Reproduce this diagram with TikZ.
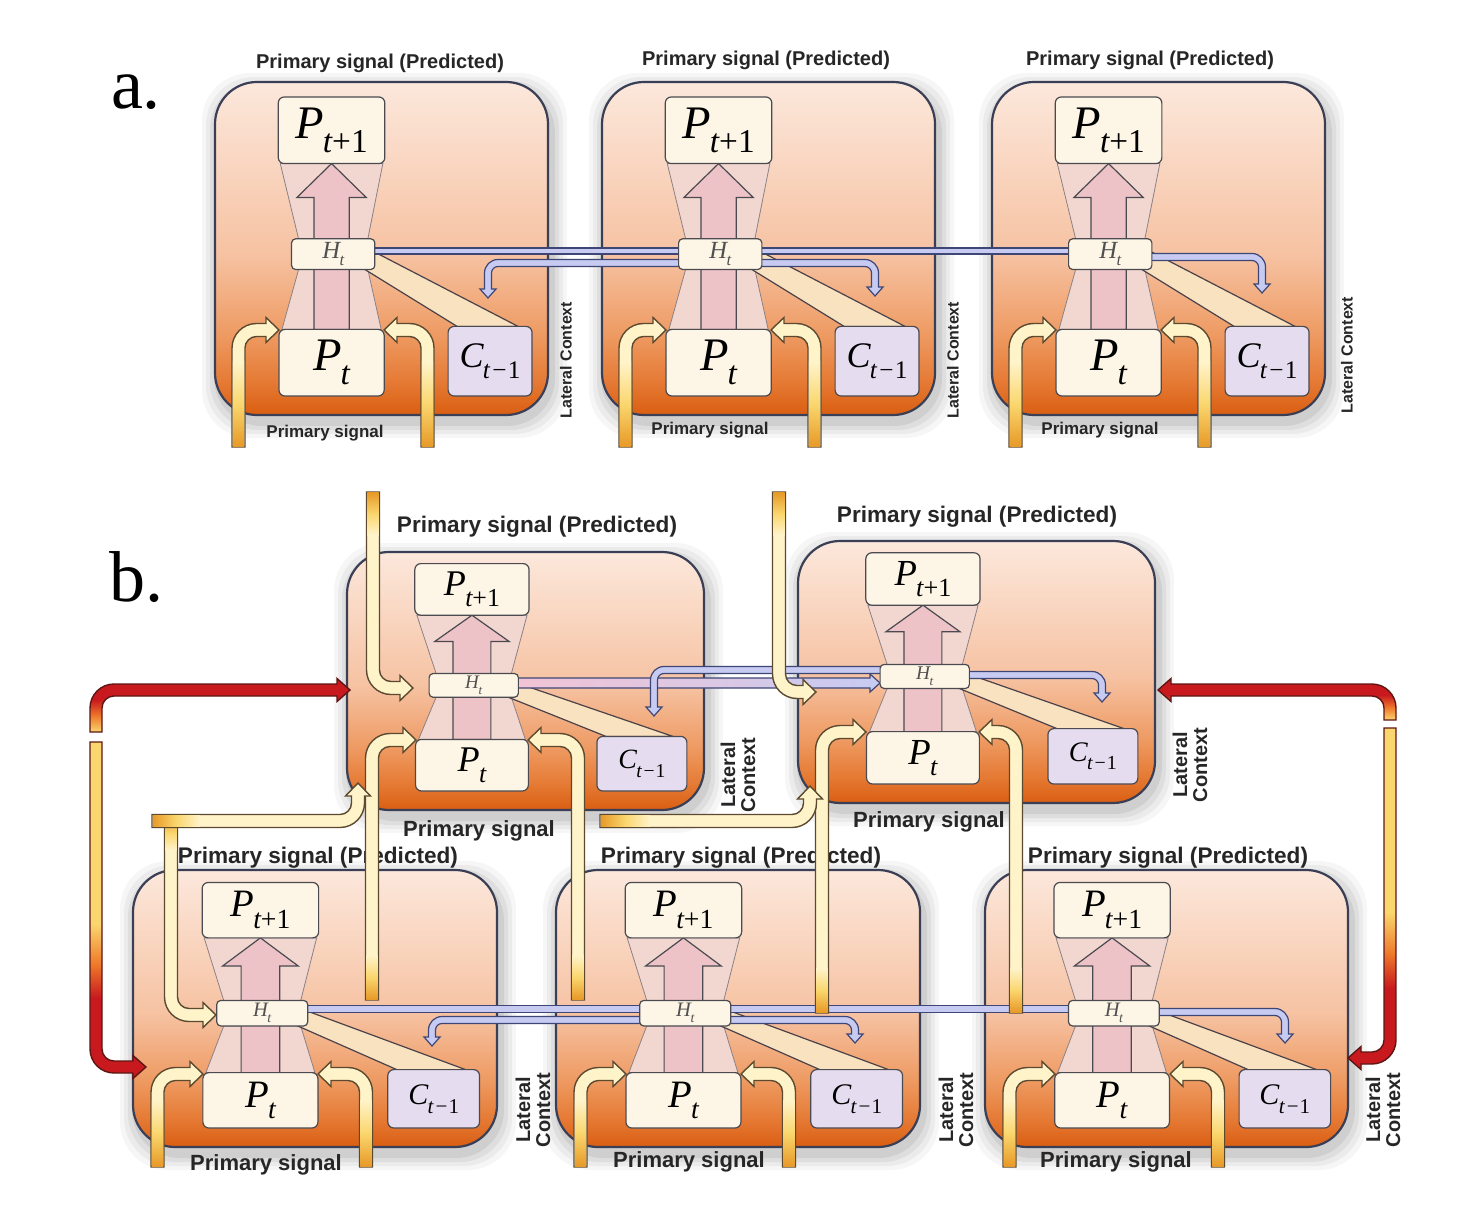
\documentclass[tikz,border=0pt]{standalone}
\usepackage{fontspec}
\setmainfont{Liberation Sans}
\newfontfamily\tms{Liberation Serif}
\definecolor{boxedge}{HTML}{3B3F55}
\definecolor{o0}{HTML}{FCE8DC}
\definecolor{o2}{HTML}{F6C2A2}
\definecolor{o3}{HTML}{EE9A62}
\definecolor{o35}{HTML}{E57A34}
\definecolor{o4}{HTML}{DA5E12}
\definecolor{pboxf}{HTML}{FDF6E6}
\definecolor{pboxe}{HTML}{4A4A50}
\definecolor{cboxf}{HTML}{E6DCF0}
\definecolor{hgf}{HTML}{F1D7D0}
\definecolor{hge}{HTML}{8C8084}
\definecolor{bigf}{HTML}{EEC3C7}
\definecolor{bande}{HTML}{4A4248}
\definecolor{bandf}{HTML}{F9E2C0}
\definecolor{pedge}{HTML}{5C4A30}
\definecolor{pcream}{HTML}{FFF3CA}
\definecolor{pyel}{HTML}{FAD66E}
\definecolor{pgold}{HTML}{E79A28}
\definecolor{pred}{HTML}{C81A1E}
\definecolor{porange}{HTML}{EE7A2A}
\definecolor{redge}{HTML}{5E1614}
\definecolor{lavf}{HTML}{C7CBF2}
\definecolor{lave}{HTML}{3E4676}
\definecolor{lpink}{HTML}{F2C4D4}
\definecolor{labc}{HTML}{262626}
\definecolor{hcol}{HTML}{505050}
\pgfdeclareverticalshading{modshade}{100bp}{color(0bp)=(o4); color(25bp)=(o4); color(30bp)=(o35); color(37bp)=(o3); color(49bp)=(o2); color(75bp)=(o0); color(100bp)=(o0)}
\pgfdeclareverticalshading{redup}{100bp}{color(0bp)=(pyel); color(25bp)=(pyel); color(40bp)=(porange); color(55bp)=(pred); color(100bp)=(pred)}
\pgfdeclareverticalshading{reddown}{100bp}{color(0bp)=(pred); color(37bp)=(pred); color(42bp)=(porange); color(48bp)=(pyel); color(100bp)=(pyel)}
\tikzset{
  modbox/.style={shading=modshade, draw=boxedge, line width=1.1pt, rounded corners=21pt},
  pbox/.style={draw=pboxe, fill=pboxf, line width=0.6pt, rounded corners=3pt, inner sep=0pt},
  cbox/.style={draw=pboxe, fill=cboxf, line width=0.6pt, rounded corners=3pt, inner sep=0pt},
  hgl/.style={fill=hgf, draw=hge, line width=0.4pt},
  bigarrow/.style={fill=bigf, draw=pboxe, line width=0.6pt},
  band/.style={fill=bandf, draw=bande, line width=0.6pt},
  ypipe/.style={fill=pcream, draw=pedge, line width=0.7pt},
  rpipeup/.style={shade, shading=redup, draw=redge, line width=0.7pt},
  rpipedown/.style={shade, shading=reddown, draw=redge, line width=0.7pt},
  lpipe/.style={fill=lavf, draw=lave, line width=0.6pt},
  lpipepk/.style={left color=lpink, right color=lavf, draw=lave, line width=0.6pt},
  lbl/.style={font=\bfseries\fontsize{#1}{#1}\selectfont, text=labc, inner sep=0pt},
  lat/.style={font=\bfseries\fontsize{#1}{#1}\selectfont, text=labc, inner sep=0pt, rotate=90, align=center},
}
\newcommand\Psym[4]{{\fontsize{#1}{#1}\selectfont\tms\itshape #3\kern-0.02em\raisebox{-0.3em}{\fontsize{#2}{#2}\selectfont #4}}}
\newcommand\module[5]{%
 \pgfmathsetmacro\mxl{#1}\pgfmathsetmacro\myt{#2}%
 \pgfmathsetmacro\mxr{#1+#3}\pgfmathsetmacro\myb{#2+#4}%
 \pgfmathsetmacro\pcx{#1+0.35*#3}\pgfmathsetmacro\pqw{0.16*#3}%
 \pgfmathsetmacro\pqt{#2+0.045*#4}\pgfmathsetmacro\pqb{#2+0.245*#4}%
 \pgfmathsetmacro\pqh{0.1*#4}%
 \pgfmathsetmacro\pbw{0.158*#3}%
 \pgfmathsetmacro\pbb{#2+#4-19}\pgfmathsetmacro\pbt{#2+#4-19-0.2*#4}%
 \pgfmathsetmacro\pch{(\pbb-\pbt+3)/2}%
 \pgfmathsetmacro\hcx{#1+0.355*#3}\pgfmathsetmacro\hw{0.125*#3}%
 \pgfmathsetmacro\hcy{#2+0.517*#4}\pgfmathsetmacro\hh{0.046*#4}%
 \pgfmathsetmacro\ccx{#1+0.826*#3}\pgfmathsetmacro\cw{0.126*#3}%
 \pgfmathsetmacro\sa{0.053*#3}\pgfmathsetmacro\ha{0.104*#3}%
 \pgfmathsetmacro\hb{\pqb+0.45*(\hcy-\hh-\pqb)}%
 \pgfmathsetmacro\fsP{0.07*#4}\pgfmathsetmacro\fsPs{0.05*#4}%
 \pgfmathsetmacro\fsC{0.054*#4}\pgfmathsetmacro\fsCs{0.038*#4}%
 \foreach \s/\op in {16/0.035,12/0.045,8/0.055,4/0.065}{%
   \fill[black,opacity=\op,rounded corners=24pt] ({\mxl-\s+3},{\myt-\s+7}) rectangle ({\mxr+\s+3},{\myb+\s+7});}%
 \shadedraw[modbox] ({\mxl},{\myt}) rectangle ({\mxr},{\myb});
 \filldraw[hgl] ({\pcx-\pqw+2},{\pqb}) -- ({\pcx+\pqw-2},{\pqb}) -- ({\hcx+\hw-7},{\hcy-\hh}) -- ({\hcx-\hw+7},{\hcy-\hh}) -- cycle;
 \filldraw[hgl] ({\hcx-\hw+7},{\hcy+\hh}) -- ({\hcx+\hw-7},{\hcy+\hh}) -- ({\pcx+\pbw-3},{\pbt}) -- ({\pcx-\pbw+3},{\pbt}) -- cycle;
 \filldraw[bigarrow] ({\pcx-\sa},{\pbt}) -- ({\pcx-\sa},{\hb}) -- ({\pcx-\ha},{\hb}) -- ({\pcx},{\pqb}) -- ({\pcx+\ha},{\hb}) -- ({\pcx+\sa},{\hb}) -- ({\pcx+\sa},{\pbt}) -- cycle;
 \filldraw[band] ({\hcx+\hw},{\hcy-2}) -- ({\ccx+\cw-14},{\pbt-3}) -- ({\ccx-\cw+9},{\pbt-3}) -- ({\hcx+\hw-10},{\hcy+\hh}) -- cycle;
 \node[pbox, minimum width=\pqw pt, minimum height=\pqh pt] (#5p1) at ({\pcx},{(\pqt+\pqb)/2}) {\Psym{\fsP}{\fsPs}{P}{t\upshape+1}};
 \node[pbox, minimum width=\pbw pt, minimum height=\pqh pt] (#5pt) at ({\pcx},{(\pbt+\pbb)/2}) {\Psym{\fsP}{\fsPs}{P}{t}};
 \node[cbox, minimum width=\cw pt, minimum height=\pch pt] (#5c) at ({\ccx},{(\pbt-3+\pbb)/2}) {\Psym{\fsC}{\fsCs}{C}{t\kern0.1em\upshape−\kern0.05em1}};
}
\newcommand\Hbox[5]{%
 \pgfmathsetmacro\hcx{#1+0.355*#3}\pgfmathsetmacro\hw{0.125*#3}%
 \pgfmathsetmacro\hcy{#2+0.517*#4}\pgfmathsetmacro\hh{0.046*#4}%
 \pgfmathsetmacro\fsH{0.037*#4}\pgfmathsetmacro\fsHs{0.025*#4}%
 \node[pbox, rounded corners=2pt, minimum width=\hw pt, minimum height=\hh pt] (#5h) at ({\hcx},{\hcy}) {\textcolor{hcol}{\Psym{\fsH}{\fsHs}{H}{t}}};}
\newcommand\pipesize[4]{\def\ph{#1}\def\pH{#2}\def\pL{#3}\def\pr{#4}}
% up then right
\newcommand\pipeUR[5]{\path[#1] ({#2-\ph},{#3}) -- ({#2-\ph},{#4+\pr}) arc[start angle=180, end angle=270, radius={\pr+\ph}] -- ({#5-\pL},{#4-\ph}) -- ({#5-\pL},{#4-\pH}) -- ({#5},{#4}) -- ({#5-\pL},{#4+\pH}) -- ({#5-\pL},{#4+\ph}) -- ({#2+\pr},{#4+\ph}) arc[start angle=270, end angle=180, radius={\pr-\ph}] -- ({#2+\ph},{#3}) -- cycle;}
% up then left
\newcommand\pipeUL[5]{\path[#1] ({#2+\ph},{#3}) -- ({#2+\ph},{#4+\pr}) arc[start angle=0, end angle=-90, radius={\pr+\ph}] -- ({#5+\pL},{#4-\ph}) -- ({#5+\pL},{#4-\pH}) -- ({#5},{#4}) -- ({#5+\pL},{#4+\pH}) -- ({#5+\pL},{#4+\ph}) -- ({#2-\pr},{#4+\ph}) arc[start angle=-90, end angle=0, radius={\pr-\ph}] -- ({#2-\ph},{#3}) -- cycle;}
% down then right
\newcommand\pipeDR[5]{\path[#1] ({#2-\ph},{#3}) -- ({#2-\ph},{#4-\pr}) arc[start angle=180, end angle=90, radius={\pr+\ph}] -- ({#5-\pL},{#4+\ph}) -- ({#5-\pL},{#4+\pH}) -- ({#5},{#4}) -- ({#5-\pL},{#4-\pH}) -- ({#5-\pL},{#4-\ph}) -- ({#2+\pr},{#4-\ph}) arc[start angle=90, end angle=180, radius={\pr-\ph}] -- ({#2+\ph},{#3}) -- cycle;}
% down then left
\newcommand\pipeDL[5]{\path[#1] ({#2+\ph},{#3}) -- ({#2+\ph},{#4-\pr}) arc[start angle=0, end angle=90, radius={\pr+\ph}] -- ({#5+\pL},{#4+\ph}) -- ({#5+\pL},{#4+\pH}) -- ({#5},{#4}) -- ({#5+\pL},{#4-\pH}) -- ({#5+\pL},{#4-\ph}) -- ({#2-\pr},{#4-\ph}) arc[start angle=90, end angle=0, radius={\pr-\ph}] -- ({#2-\ph},{#3}) -- cycle;}
% right then up
\newcommand\pipeRU[5]{\path[#1] ({#2},{#3+\ph}) -- ({#4-\pr},{#3+\ph}) arc[start angle=90, end angle=0, radius={\pr+\ph}] -- ({#4+\ph},{#5+\pL}) -- ({#4+\pH},{#5+\pL}) -- ({#4},{#5}) -- ({#4-\pH},{#5+\pL}) -- ({#4-\ph},{#5+\pL}) -- ({#4-\ph},{#3-\pr}) arc[start angle=0, end angle=90, radius={\pr-\ph}] -- ({#2},{#3-\ph}) -- cycle;}
% right then down
\newcommand\pipeRD[5]{\path[#1] ({#2},{#3-\ph}) -- ({#4-\pr},{#3-\ph}) arc[start angle=270, end angle=360, radius={\pr+\ph}] -- ({#4+\ph},{#5-\pL}) -- ({#4+\pH},{#5-\pL}) -- ({#4},{#5}) -- ({#4-\pH},{#5-\pL}) -- ({#4-\ph},{#5-\pL}) -- ({#4-\ph},{#3+\pr}) arc[start angle=360, end angle=270, radius={\pr-\ph}] -- ({#2},{#3+\ph}) -- cycle;}
% left then down
\newcommand\pipeLD[5]{\path[#1] ({#2},{#3-\ph}) -- ({#4+\pr},{#3-\ph}) arc[start angle=270, end angle=180, radius={\pr+\ph}] -- ({#4-\ph},{#5-\pL}) -- ({#4-\pH},{#5-\pL}) -- ({#4},{#5}) -- ({#4+\pH},{#5-\pL}) -- ({#4+\ph},{#5-\pL}) -- ({#4+\ph},{#3+\pr}) arc[start angle=180, end angle=270, radius={\pr-\ph}] -- ({#2},{#3+\ph}) -- cycle;}
% straight right arrow
\newcommand\pipeRt[4]{\path[#1] ({#2},{#3-\ph}) -- ({#4-\pL},{#3-\ph}) -- ({#4-\pL},{#3-\pH}) -- ({#4},{#3}) -- ({#4-\pL},{#3+\pH}) -- ({#4-\pL},{#3+\ph}) -- ({#2},{#3+\ph}) -- cycle;}
\newcommand\gradUp[3]{\shade[top color=pcream, bottom color=pgold, middle color=pyel] ({#1-\ph+0.8},{#2-0.8}) rectangle ({#1+\ph-0.8},{#3});}
\newcommand\gradDown[3]{\shade[top color=pgold, bottom color=pcream, middle color=pyel] ({#1-\ph+0.8},{#2+0.8}) rectangle ({#1+\ph-0.8},{#3});}
\newcommand\gradRt[3]{\shade[left color=pgold, right color=pcream, middle color=pyel] ({#1+0.8},{#3-\ph+0.8}) rectangle ({#2},{#3+\ph-0.8});}
\begin{document}
\begin{tikzpicture}[x=0.5pt,y=-0.5pt]
\fill[white] (0,0) rectangle (1470,1224);
\useasboundingbox (0,0) rectangle (1470,1224);
\node[font=\tms\fontsize{36}{36}\selectfont, inner sep=0pt] (la) at (136,92) {a.};
\node[font=\tms\fontsize{36}{36}\selectfont, inner sep=0pt] (lb) at (136,577) {b.};
% modules
\module{215}{82}{333}{333}{A1}
\module{602}{82}{333}{333}{A2}
\module{992}{82}{333}{333}{A3}
\module{347}{552}{357}{258}{B1}
\module{798}{541}{357}{262}{B2}
\module{133}{870}{364}{277}{B3}
\module{556}{870}{364}{277}{B4}
\module{985}{870}{363}{277}{B5}
% labels
\node[lbl=10pt] (ta1) at (380,63) {Primary signal (Predicted)};
\node[lbl=10pt] (ta2) at (766,60) {Primary signal (Predicted)};
\node[lbl=10pt] (ta3) at (1150,60) {Primary signal (Predicted)};
\node[lbl=8.5pt] (ba1) at (325,433) {Primary signal};
\node[lbl=8.5pt] (ba2) at (710,430) {Primary signal};
\node[lbl=8.5pt] (ba3) at (1100,430) {Primary signal};
\node[lat=8pt] (ca1) at (566,360) {Lateral Context};
\node[lat=8pt] (ca2) at (953,360) {Lateral Context};
\node[lat=8pt] (ca3) at (1347,355) {Lateral Context};
\node[lbl=11.3pt] (tb1) at (537,527) {Primary signal (Predicted)};
\node[lbl=11.3pt] (tb2) at (977,517) {Primary signal (Predicted)};
\node[lbl=11.3pt] (tb3) at (318,858) {Primary signal (Predicted)};
\node[lbl=11.3pt] (tb4) at (741,858) {Primary signal (Predicted)};
\node[lbl=11.3pt] (tb5) at (1168,858) {Primary signal (Predicted)};
\node[lbl=11pt] (bb1) at (479,831) {Primary signal};
\node[lbl=11pt] (bb2) at (929,822) {Primary signal};
\node[lbl=11pt] (bb3) at (266,1165) {Primary signal};
\node[lbl=11pt] (bb4) at (689,1162) {Primary signal};
\node[lbl=11pt] (bb5) at (1116,1162) {Primary signal};
\node[lat=10pt] (cb1) at (738,775) {Lateral\\Context};
\node[lat=10pt] (cb2) at (1190,765) {Lateral\\Context};
\node[lat=10pt] (cb3) at (533,1110) {Lateral\\Context};
\node[lat=10pt] (cb4) at (956,1110) {Lateral\\Context};
\node[lat=10pt] (cb5) at (1383,1110) {Lateral\\Context};
% lateral connections
\path[lpipe] (372,248) rectangle (1071,254);
\pipesize{3.5}{8}{9}{10}
\pipeRD{lpipe}{1150}{257}{1262}{293}
\pipeLD{lpipe}{682}{263}{488}{298}
\pipeRD{lpipe}{760}{263}{875}{296}
\pipesize{5}{9}{10}{10}
\pipeRt{lpipepk}{516}{683}{880}
\pipesize{3.5}{8}{9}{10}
\pipeLD{lpipe}{882}{670}{654}{716}
\pipeRD{lpipe}{967}{675}{1102}{702}
\path[lpipe] (305,1005.5) rectangle (1071,1012.5);
\pipeLD{lpipe}{642}{1020}{432}{1046}
\pipeRD{lpipe}{729}{1020}{855}{1043}
\pipeRD{lpipe}{1157}{1012}{1285}{1043}
% H boxes
\Hbox{215}{82}{333}{333}{A1}
\Hbox{602}{82}{333}{333}{A2}
\Hbox{992}{82}{333}{333}{A3}
\Hbox{347}{552}{357}{258}{B1}
\Hbox{798}{541}{357}{262}{B2}
\Hbox{133}{870}{364}{277}{B3}
\Hbox{556}{870}{364}{277}{B4}
\Hbox{985}{870}{363}{277}{B5}
% yellow pipes
\pipesize{6.5}{12.5}{13}{18}
\foreach \X in {215,602,992}{%
  \pipeUR{ypipe}{\X+23.5}{447}{330}{\X+64}\gradUp{\X+23.5}{447}{362}
  \pipeUL{ypipe}{\X+212.5}{447}{330}{\X+169}\gradUp{\X+212.5}{447}{362}}
\foreach \X in {133,556,985}{%
  \pipeUR{ypipe}{\X+24.5}{1167}{1074}{\X+70}\gradUp{\X+24.5}{1167}{1100}
  \pipeUL{ypipe}{\X+233}{1167}{1074}{\X+185}\gradUp{\X+233}{1167}{1100}}
\pipeUR{ypipe}{372}{1000}{740}{416}\gradUp{372}{1000}{955}
\pipeUL{ypipe}{578}{1000}{740}{528}\gradUp{578}{1000}{955}
\pipeUR{ypipe}{822}{1013}{732}{866}\gradUp{822}{1013}{968}
\pipeUL{ypipe}{1016}{1013}{732}{979}\gradUp{1016}{1013}{968}
\pipeDR{ypipe}{373}{492}{688}{413}\gradDown{373}{492}{535}
\pipeDR{ypipe}{779}{492}{692}{816}\gradDown{779}{492}{535}
\pipeDR{ypipe}{171}{815}{1015}{216}\gradDown{171}{815}{850}
\pipeRU{ypipe}{152}{821}{358}{783}\gradRt{152}{200}{821}
\pipeRU{ypipe}{600}{821}{810}{786}\gradRt{600}{650}{821}
% red pipes
\pipesize{6}{11.5}{13}{18}
\pipeUR{rpipeup}{96}{732}{690}{350}
\pipeDR{rpipedown}{96}{742}{1067}{146}
\pipeUL{rpipeup}{1390}{720}{690}{1158}
\pipeDL{rpipedown}{1390}{728}{1058}{1348}
\end{tikzpicture}
\end{document}
